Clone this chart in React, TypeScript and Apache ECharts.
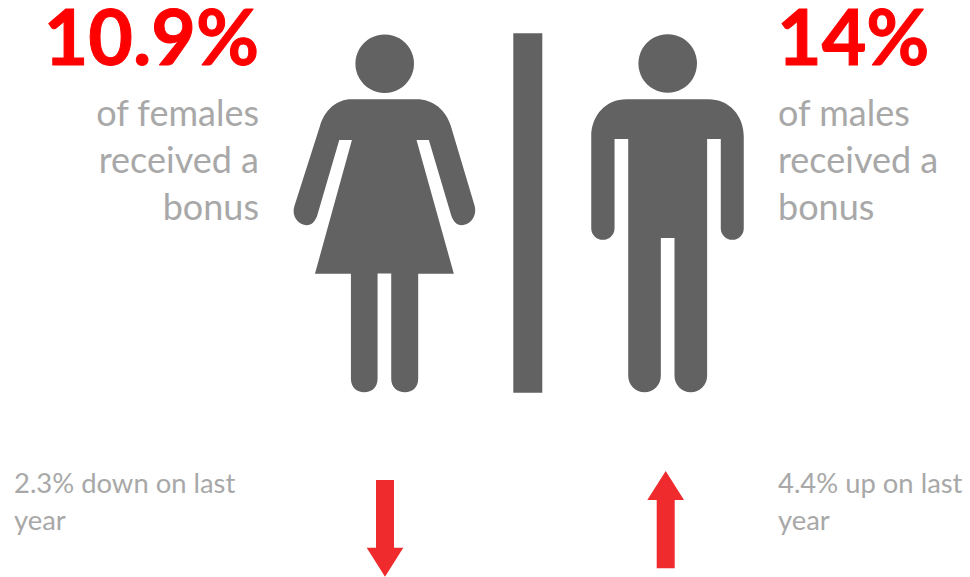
import React, { useEffect, useRef } from "react";
import * as echarts from "echarts";

const femaleShare = "10.9%";
const maleShare = "14%";
const femaleCaption = ["of females", "received a", "bonus"];
const maleCaption = ["of males", "received a", "bonus"];
const femaleChange = ["2.3% down on last", "year"];
const maleChange = ["4.4% up on last", "year"];

const FONT = "Lato, Carlito, 'Noto Sans', sans-serif";
const ICON = "#626262";
const RED = "#ff0000";
const ARROW = "#ef2b2e";
const MUTED = "#a8a8a8";

// Pictogram outlines, drawn at 3x and scaled down when placed.
const womanBody =
  "M215 238 L410 238 C460 238 498 270 513 318 L584 556 C594 590 570 616 546 616 C530 616 520 604 514 586 L447 360 L410 360 L522 762 L415 762 L415 1078 C415 1102 398 1118 375 1118 C352 1118 334 1102 334 1078 L334 761 L293 761 L293 1078 C293 1102 276 1118 253 1118 C230 1118 213 1102 213 1078 L213 762 L105 762 L216 360 L178 360 L112 586 C106 604 96 616 79 616 C56 616 32 590 44 556 L120 318 C134 270 170 238 215 238 Z";
const manBody =
  "M380 238 L625 238 C688 238 732 286 732 350 L732 625 C732 645 717 660 698 660 C679 660 663 645 663 625 L663 357 L622 357 L622 1068 C622 1096 600 1118 573 1118 C546 1118 524 1096 524 1068 L524 655 L483 655 L483 1068 C483 1096 461 1118 434 1118 C407 1118 385 1096 385 1068 L385 357 L344 357 L344 625 C344 645 328 660 309 660 C290 660 274 645 274 625 L274 350 C274 286 318 238 380 238 Z";

echarts.graphic.registerShape("womanBody", echarts.graphic.extendPath(womanBody, {}));
echarts.graphic.registerShape("manBody", echarts.graphic.extendPath(manBody, {}));

function label(
  text: string,
  x: number,
  y: number,
  size: number,
  fill: string,
  align: string,
  weight = "normal",
  outline = 0
) {
  return {
    type: "text",
    x,
    y,
    silent: true,
    style: {
      text,
      fill,
      stroke: outline ? fill : undefined,
      lineWidth: outline,
      font: `${weight} ${size}px ${FONT}`,
      lineHeight: Math.round(size * 0.9),
      textAlign: align,
      textVerticalAlign: "middle",
    },
  };
}

function arrow(points: number[][]) {
  return { type: "polygon", silent: true, shape: { points }, style: { fill: ARROW } };
}

export default function App() {
  const ref = useRef<HTMLDivElement>(null);

  useEffect(() => {
    document.body.style.margin = "0";
    const chart = echarts.init(ref.current!, null, { renderer: "svg" });
    const elements: any[] = [
      label(femaleShare, 259, 35, 77, RED, "right", "bold", 1),
      label(maleShare, 777, 35, 77, RED, "left", "bold", 1),
      ...femaleCaption.map((t, i) => label(t, 259, 111.5 + i * 47, 36, MUTED, "right")),
      ...maleCaption.map((t, i) => label(t, 778, 111.5 + i * 47, 36, MUTED, "left")),
      ...femaleChange.map((t, i) => label(t, 14, 482.5 + i * 36.5, 27.4, MUTED, "left")),
      ...maleChange.map((t, i) => label(t, 778, 482.5 + i * 36.5, 27.4, MUTED, "left")),
      { type: "circle", silent: true, shape: { cx: 384.7, cy: 63.7, r: 29.3 }, style: { fill: ICON } },
      { type: "womanBody", silent: true, x: 280, y: 20, scaleX: 1 / 3, scaleY: 1 / 3, style: { fill: ICON } },
      { type: "rect", silent: true, shape: { x: 513.3, y: 33.3, width: 29, height: 359.4 }, style: { fill: ICON } },
      { type: "circle", silent: true, shape: { cx: 667.7, cy: 63.5, r: 29.3 }, style: { fill: ICON } },
      { type: "manBody", silent: true, x: 500, y: 20, scaleX: 1 / 3, scaleY: 1 / 3, style: { fill: ICON } },
      arrow([[376, 480], [394, 480], [394, 547.7], [403.3, 547.7], [385, 576.7], [366.7, 547.7], [376, 547.7]]),
      arrow([[656.7, 568.3], [674.7, 568.3], [674.7, 500], [684, 500], [665.7, 471], [647.3, 500], [656.7, 500]]),
    ];
    chart.setOption({ animation: false, backgroundColor: "#ffffff", graphic: { elements } });
    return () => chart.dispose();
  }, []);

  return <div ref={ref} style={{ position: "absolute", left: 0, top: 0, width: 970, height: 577 }} />;
}
